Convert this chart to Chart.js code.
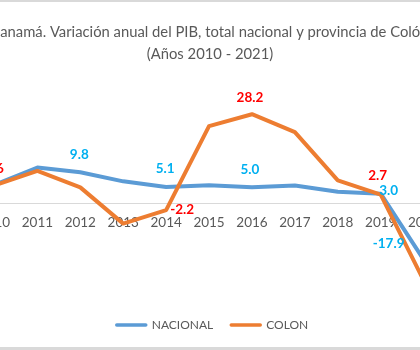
<!DOCTYPE html>
<html>
<head>
<meta charset="utf-8">
<script src="https://cdn.jsdelivr.net/npm/chart.js@4/dist/chart.umd.min.js"></script>
<style>
  html, body { margin: 0; padding: 0; background: #fff; overflow: hidden; }
  body { width: 420px; height: 350px; position: relative; }
  #wrap { position: absolute; left: -90px; top: 0; width: 600px; height: 350px; }
  .edge { position: absolute; left: 0; width: 420px; background: #d9d9d9; }
</style>
</head>
<body>
<div id="wrap"><canvas id="chart" width="600" height="350"></canvas></div>
<div class="edge" style="top:0;height:2px"></div>
<div class="edge" style="bottom:0;height:3px"></div>
<script>
const years = ['2010', '2011', '2012', '2013', '2014', '2015', '2016', '2017', '2018', '2019', '2020', '2021'];
const nacional = [5.8, 11.3, 9.8, 6.9, 5.1, 5.7, 5.0, 5.6, 3.6, 3.0, -17.9, 15.3];
const colon = [5.6, 10.2, 5.0, -6.5, -2.2, 24.4, 28.2, 22.5, 7.2, 2.7, -24.5, 18.0];
const yMin = -32;
const yMax = 40;
const titleLines = ['Panamá. Variación anual del PIB, total nacional y provincia de Colón', '(Años 2010 - 2021)'];

// which points carry a value label, and where it sits relative to the point
const labelSpots = {
  0: { color: '#00B0F0', at: { 2: [-1, -18], 4: [-1, -18], 6: [-2, -18], 9: [8, -3], 10: [-35, -16] } },
  1: { color: '#FF0000', at: { 0: [0, -17], 4: [16, 0], 6: [-2, -17], 9: [-3, -19] } },
};

const valueLabels = {
  id: 'valueLabels',
  afterDatasetsDraw(chart) {
    const ctx = chart.ctx;
    ctx.save();
    ctx.font = 'bold 13.5px Lato';
    ctx.textAlign = 'center';
    ctx.textBaseline = 'middle';
    Object.keys(labelSpots).forEach((di) => {
      const spot = labelSpots[di];
      const meta = chart.getDatasetMeta(+di);
      const values = chart.data.datasets[di].data;
      ctx.fillStyle = spot.color;
      Object.keys(spot.at).forEach((i) => {
        const pt = meta.data[i];
        const [dx, dy] = spot.at[i];
        ctx.fillText(values[i].toFixed(1), pt.x + dx, pt.y + dy);
      });
    });
    ctx.restore();
  },
};

// title and legend are centred on the canvas, not on the plot area (like the Excel original)
const titleAndLegend = {
  id: 'titleAndLegend',
  afterDraw(chart) {
    const ctx = chart.ctx;
    const mid = chart.width / 2;
    ctx.save();
    ctx.fillStyle = '#595959';
    ctx.textAlign = 'center';
    ctx.textBaseline = 'middle';
    ctx.font = '14.8px Lato';
    titleLines.forEach((t, i) => ctx.fillText(t, mid, 32 + i * 22));

    ctx.font = '12px Lato';
    ctx.textAlign = 'left';
    const sw = 33;
    const items = chart.data.datasets
      .map((ds) => ({ text: ds.label, color: ds.borderColor, w: sw + 4 + ctx.measureText(ds.label).width }));
    const total = items.reduce((s, it) => s + it.w, 0) + 16 * (items.length - 1);
    let x = mid + 1.5 - total / 2;
    const y = 325;
    ctx.lineWidth = 3.5;
    ctx.lineCap = 'round';
    items.forEach((it) => {
      ctx.strokeStyle = it.color;
      ctx.beginPath();
      ctx.moveTo(x + 2, y);
      ctx.lineTo(x + sw - 2, y);
      ctx.stroke();
      ctx.fillText(it.text, x + sw + 4, y);
      x += it.w + 16;
    });
    ctx.restore();
  },
};

new Chart(document.getElementById('chart'), {
  type: 'line',
  data: {
    labels: years,
    datasets: [
      {
        label: 'NACIONAL',
        data: nacional,
        borderColor: '#5B9BD5',
        backgroundColor: '#5B9BD5',
        borderWidth: 4,
        pointRadius: 0,
        borderJoinStyle: 'round',
        borderCapStyle: 'round',
        order: 1,
      },
      {
        label: 'COLON',
        data: colon,
        borderColor: '#ED7D31',
        backgroundColor: '#ED7D31',
        borderWidth: 4,
        pointRadius: 0,
        borderJoinStyle: 'round',
        borderCapStyle: 'round',
        order: 0,
      },
    ],
  },
  options: {
    responsive: false,
    animation: false,
    devicePixelRatio: 1,
    layout: { padding: { left: 63, right: 22, top: 77, bottom: 46 } },
    plugins: {
      title: { display: false },
      legend: { display: false },
      tooltip: { enabled: false },
    },
    scales: {
      x: {
        type: 'category',
        offset: true,
        position: { y: 0 },
        grid: { display: false, drawTicks: false },
        border: { display: true, color: '#D9D9D9', width: 1 },
        ticks: {
          color: '#595959',
          font: { family: 'Lato', size: 13.5 },
          padding: 11,
          maxRotation: 0,
          autoSkip: false,
        },
      },
      y: {
        display: false,
        min: yMin,
        max: yMax,
      },
    },
  },
  plugins: [valueLabels, titleAndLegend],
});
</script>
</body>
</html>
